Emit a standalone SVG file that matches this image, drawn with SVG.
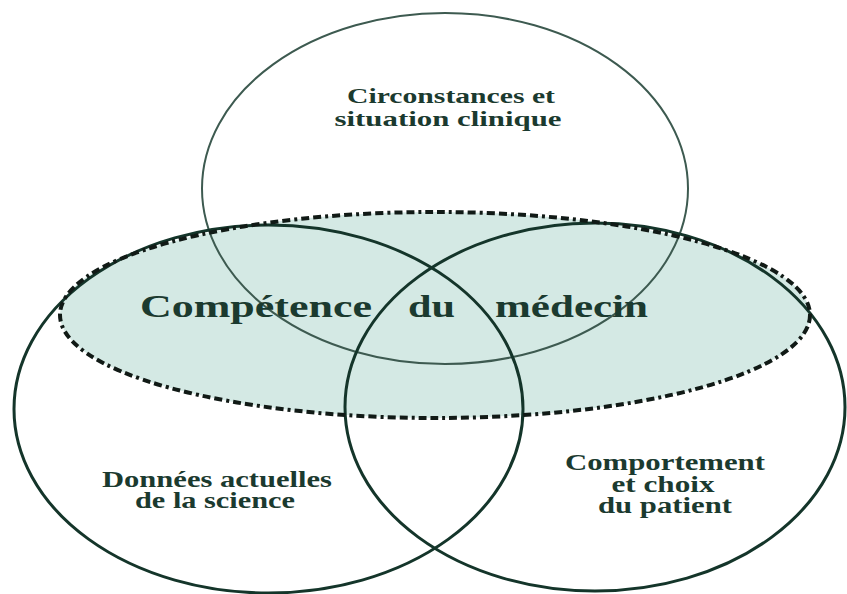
<svg xmlns="http://www.w3.org/2000/svg" width="847" height="594" viewBox="0 0 847 594">
<style>
.bg{fill:#ffffff}
.ring{fill:none;stroke:#14352a;stroke-width:3}
.ring-thin{fill:none;stroke:#3d5a50;stroke-width:2}
.zone{fill:#d4e9e4;stroke:none}
.dash{fill:none;stroke:#111a16;stroke-width:4;stroke-dasharray:8 4 8 4 3 4}
.lbl{font-family:"Liberation Serif","DejaVu Serif",serif;font-weight:bold;fill:#1b3a2f;text-anchor:middle}
.big{font-family:"Liberation Serif","DejaVu Serif",serif;font-weight:bold;fill:#1b3a2f}
</style>
<rect class="bg" x="0" y="0" width="847" height="594"/>
<g id="competence-fill">
<ellipse class="zone" cx="435" cy="315" rx="375" ry="103"/>
</g>
<g id="circonstances">
<ellipse class="ring-thin" cx="445" cy="188.5" rx="243" ry="175.5"/>
<text class="lbl" font-size="21"><tspan x="451" y="103" textLength="208" lengthAdjust="spacingAndGlyphs">Circonstances et</tspan><tspan x="448" y="126" textLength="227" lengthAdjust="spacingAndGlyphs">situation clinique</tspan></text>
</g>
<g id="donnees">
<ellipse class="ring" cx="268.5" cy="409" rx="254.5" ry="184"/>
<text class="lbl" font-size="23"><tspan x="217" y="487" textLength="230" lengthAdjust="spacingAndGlyphs">Données actuelles</tspan><tspan x="215" y="508" textLength="160" lengthAdjust="spacingAndGlyphs">de la science</tspan></text>
</g>
<g id="comportement">
<ellipse class="ring" cx="595" cy="407" rx="250" ry="184"/>
<text class="lbl" font-size="23"><tspan x="665" y="470" textLength="200" lengthAdjust="spacingAndGlyphs">Comportement</tspan><tspan x="663" y="492" textLength="103" lengthAdjust="spacingAndGlyphs">et choix</tspan><tspan x="665" y="513" textLength="134" lengthAdjust="spacingAndGlyphs">du patient</tspan></text>
</g>
<g id="competence">
<ellipse class="dash" cx="435" cy="315" rx="375" ry="103"/>
<text class="big" font-size="32" y="317"><tspan x="140" textLength="232" lengthAdjust="spacingAndGlyphs">Compétence</tspan><tspan x="408" textLength="47" lengthAdjust="spacingAndGlyphs">du</tspan><tspan x="495" textLength="153" lengthAdjust="spacingAndGlyphs">médecin</tspan></text>
</g>
<g id="connectors"/>
</svg>
